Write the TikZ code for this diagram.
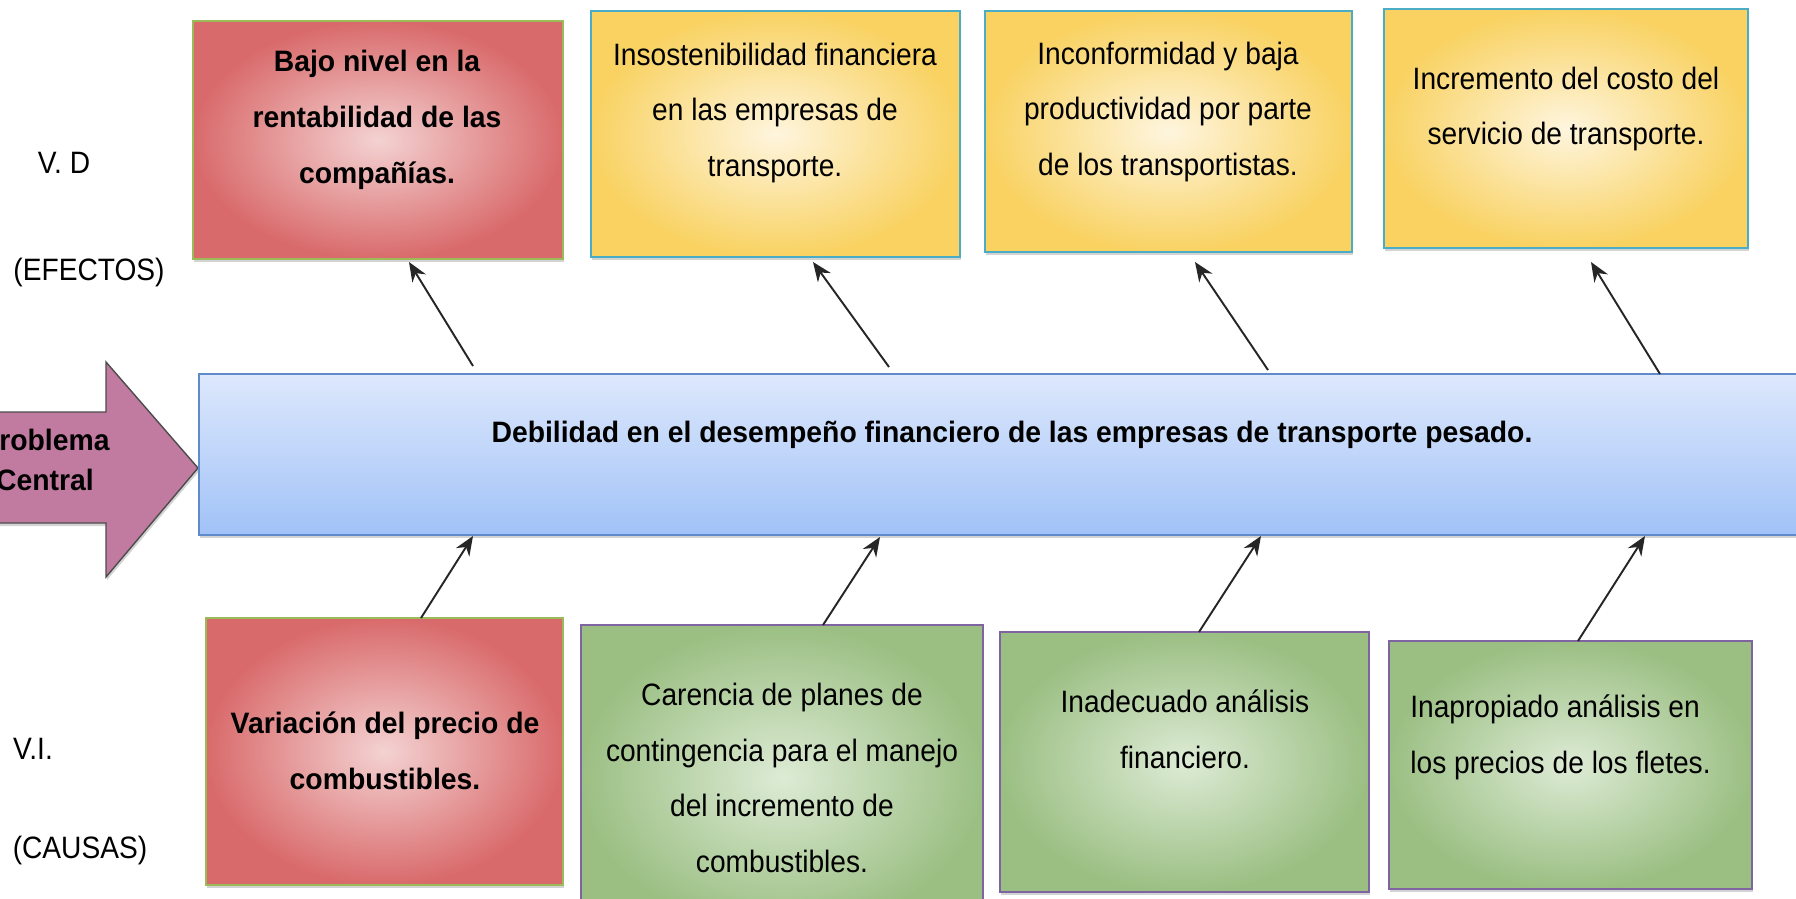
\documentclass[tikz,border=0pt]{standalone}
\usepackage{fontspec}
\setmainfont{Liberation Sans}[FakeStretch=0.91,BoldFeatures={FakeStretch=0.96}]
\usetikzlibrary{arrows.meta,calc,shadows,fit}
\definecolor{redo}{HTML}{D96A6B}
\definecolor{redi}{HTML}{F4D2D2}
\definecolor{redline}{HTML}{9BBB59}
\definecolor{yello}{HTML}{F9D262}
\definecolor{yelli}{HTML}{FEF5DE}
\definecolor{yelline}{HTML}{4BACC6}
\definecolor{greeno}{HTML}{9BBF83}
\definecolor{greeni}{HTML}{DDEBD5}
\definecolor{greenline}{HTML}{8064A2}
\definecolor{bluet}{HTML}{DDE8FC}
\definecolor{blueb}{HTML}{A1C2F7}
\definecolor{blueline}{HTML}{5F8BCB}
\definecolor{pinkarr}{HTML}{C27BA0}
\tikzset{
  box/.style={draw, line width=0.6pt, inner sep=0pt, outer sep=0pt,
    drop shadow={shadow xshift=0.6pt, shadow yshift=-1.8pt, opacity=0.35}},
  redbox/.style={box, draw=redline, inner color=redi, outer color=redo},
  yelbox/.style={box, draw=yelline, inner color=yelli, outer color=yello},
  grnbox/.style={box, draw=greenline, inner color=greeni, outer color=greeno},
  txt/.style={align=center, inner sep=0pt, font=\fontsize{17.6}{31.7}\selectfont},
  btxt/.style={align=center, inner sep=0pt, font=\fontsize{16.8}{31.7}\selectfont\bfseries},
  arr/.style={-{Stealth[length=11pt,width=9pt]}, line width=1.1pt, draw=black!85},
}
\begin{document}
\begin{tikzpicture}[x=0.02cm, y=-0.02cm]
\useasboundingbox (0,0) rectangle (1796,899);
% problema central
\draw[fill=pinkarr, draw=black!70, line width=0.8pt,
  drop shadow={shadow xshift=0.6pt, shadow yshift=-1.8pt, opacity=0.35}]
  (-40,412) -- (106,412) -- (106,362) -- (198,468) -- (106,577) -- (106,523) -- (-40,523) -- cycle;
\node[btxt, font=\fontsize{16.8}{22.7}\selectfont\bfseries] (pc) at (45,460) {Problema\\Central};
\node[box, draw=blueline, top color=bluet, bottom color=blueb, fit={(199,374) (1830,535)}] (prob) {};
\node[btxt] (probt) at (1012,435) {Debilidad en el desempeño financiero de las empresas de transporte pesado.};
% efectos
\node[redbox, fit={(193,21) (563,259)}] (ef1) {};
\node[yelbox, fit={(591,11) (960,257)}] (ef2) {};
\node[yelbox, fit={(985,11) (1352,252)}] (ef3) {};
\node[yelbox, fit={(1384,9) (1748,248)}] (ef4) {};
\node[btxt] (ef1t) at (377,120) {Bajo nivel en la\\rentabilidad de las\\compañías.};
\node[txt] (ef2t) at (775,113) {Insostenibilidad financiera\\en las empresas de\\transporte.};
\node[txt] (ef3t) at (1168,112) {Inconformidad y baja\\productividad por parte\\de los transportistas.};
\node[txt] (ef4t) at (1566,109) {Incremento del costo del\\servicio de transporte.};
% causas
\node[redbox, fit={(206,618) (563,885)}] (ca1) {};
\node[grnbox, fit={(581,625) (983,930)}] (ca2) {};
\node[grnbox, fit={(1000,632) (1369,892)}] (ca3) {};
\node[grnbox, fit={(1389,641) (1752,889)}] (ca4) {};
\node[btxt] (ca1t) at (385,751) {Variación del precio de\\combustibles.};
\node[txt] (ca2t) at (782,778) {Carencia de planes de\\contingencia para el manejo\\del incremento de\\combustibles.};
\node[txt] (ca3t) at (1185,729) {Inadecuado análisis\\financiero.};
\node[txt, align=left, anchor=west] (ca4t) at (1410,737) {Inapropiado análisis en\\los precios de los fletes.};
% etiquetas
\node[txt] (vd) at (64,163) {V. D};
\node[txt] (efe) at (89,272) {(EFECTOS)};
\node[txt] (vi) at (33,749) {V.I.};
\node[txt] (cau) at (80,850) {(CAUSAS)};
% flechas
\draw[arr] ($(prob.north west)+(274,-8)$) -- ($(ef1.south west)+(216,3)$);
\draw[arr] ($(prob.north west)+(690,-7)$) -- ($(ef2.south west)+(222,5)$);
\draw[arr] ($(prob.north west)+(1069,-4)$) -- ($(ef3.south west)+(210,10)$);
\draw[arr] ($(prob.north west)+(1461,0)$) -- ($(ef4.south west)+(207,14)$);
\draw[arr] ($(ca1.north west)+(215,0)$) -- ($(prob.south west)+(274,1)$);
\draw[arr] ($(ca2.north west)+(242,0)$) -- ($(prob.south west)+(681,2)$);
\draw[arr] ($(ca3.north west)+(199,0)$) -- ($(prob.south west)+(1062,1)$);
\draw[arr] ($(ca4.north west)+(189,0)$) -- ($(prob.south west)+(1446,1)$);
\end{tikzpicture}
\end{document}
